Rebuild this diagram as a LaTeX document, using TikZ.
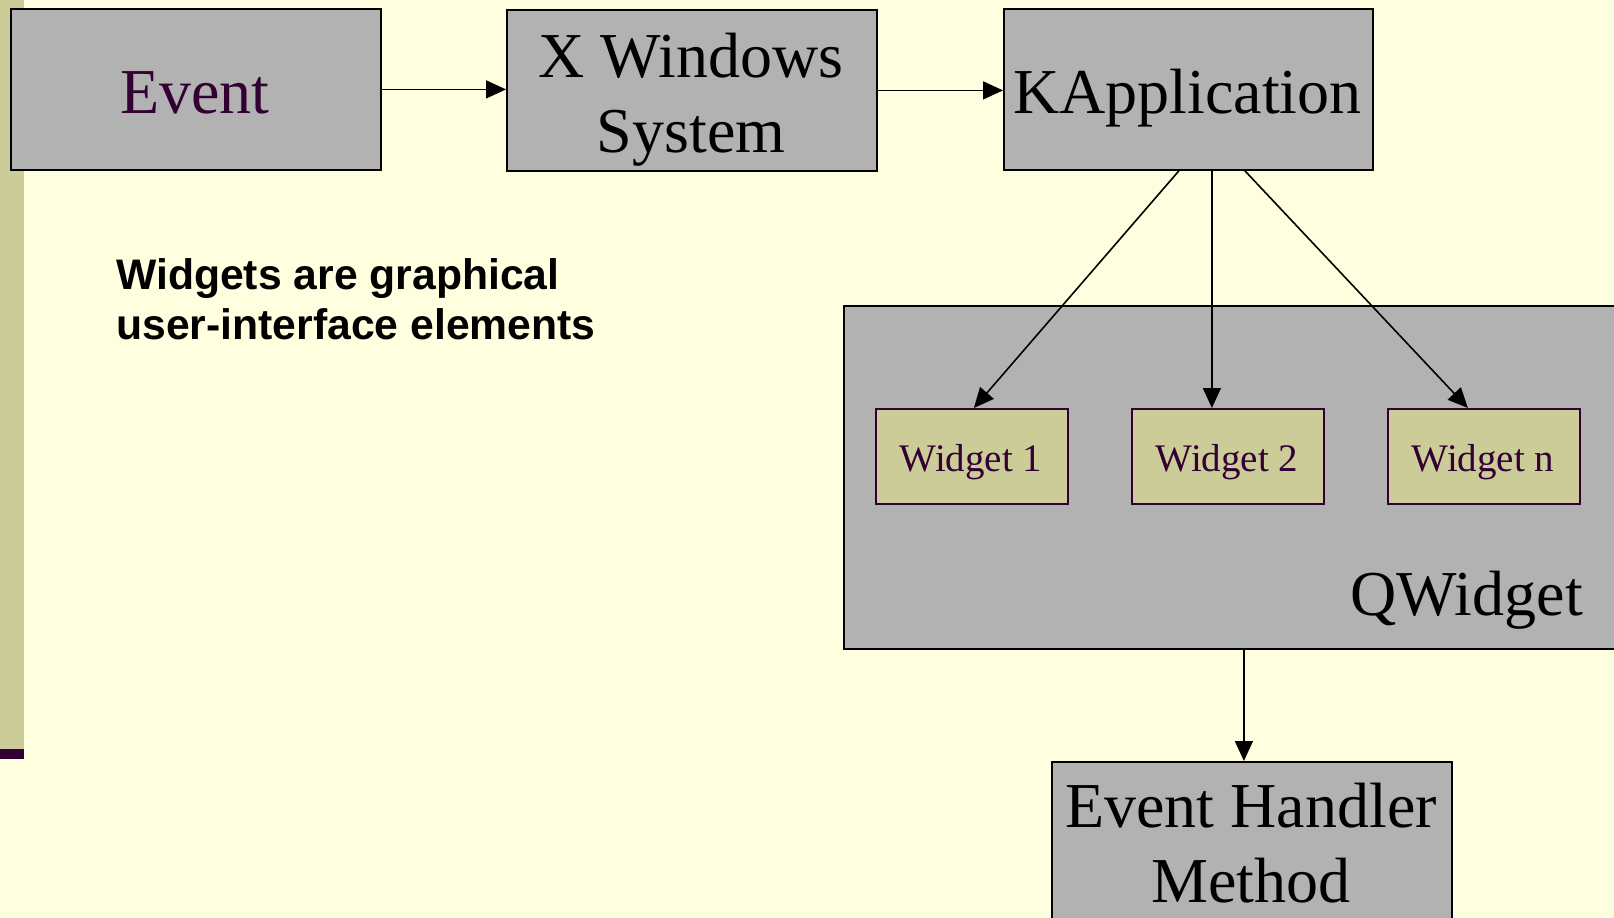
\documentclass[tikz,border=0pt]{standalone}
\usepackage{fontspec}
\setmainfont{Liberation Serif}
\setsansfont{Liberation Sans}
\usetikzlibrary{arrows.meta,calc}
\definecolor{bgyellow}{HTML}{FFFFE0}
\definecolor{boxgray}{HTML}{B2B2B2}
\definecolor{khaki}{HTML}{CCCC99}
\definecolor{plum}{HTML}{330033}
\begin{document}
\begin{tikzpicture}[x=1pt,y=-1pt,
  gbox/.style={draw=black, fill=boxgray, line width=1.8pt, inner sep=0pt, anchor=north west},
  wbox/.style={draw=plum, fill=khaki, line width=1.8pt, inner sep=0pt, anchor=north west, minimum width=192pt, minimum height=95pt},
  bigtxt/.style={font=\fontsize{64}{75}\selectfont, inner sep=0pt},
  smalltxt/.style={font=\fontsize{39}{45}\selectfont, text=plum, inner sep=0pt, anchor=base},
  arr/.style={line width=1.6pt, -{Triangle[length=20pt,width=18pt]}}
]
\useasboundingbox (0,0) rectangle (1614,918);
\fill[bgyellow] (0,0) rectangle (1614,918);
\begin{scope}
\clip (0,0) rectangle (1614,918);
\fill[khaki] (0,0) rectangle (24,749);
\fill[plum] (0,749) rectangle (24,759);
\node[gbox, minimum width=370pt, minimum height=161pt] (event) at (10,8) {};
\node[gbox, minimum width=370pt, minimum height=161pt] (xw) at (506,9) {};
\node[gbox, minimum width=369pt, minimum height=161pt] (kapp) at (1003,8) {};
\node[gbox, minimum width=800pt, minimum height=343pt] (qw) at (843,305) {};
\node[wbox] (w1) at (875,408) {};
\node[wbox] (w2) at (1131,408) {};
\node[wbox] (wn) at (1387,408) {};
\node[gbox, minimum width=400pt, minimum height=200pt] (eh) at (1051,761) {};

\node[bigtxt, text=plum, anchor=base] (eventlbl) at (195,113) {Event};
\node[bigtxt, anchor=north, align=center] (xwlbl) at (691,33) {X Windows\\System};
\node[bigtxt, anchor=base] (kapplbl) at (1187.5,113) {KApplication};
\node[bigtxt, anchor=base east] (qwlbl) at (1583,615) {QWidget};
\node[bigtxt, anchor=north, align=center] (ehlbl) at (1251,783) {Event Handler\\Method};
\node[smalltxt] (w1lbl) at (971,471.5) {Widget 1};
\node[smalltxt] (w2lbl) at (1227,471.5) {Widget 2};
\node[smalltxt] (wnlbl) at (1483,471.5) {Widget n};
\node[font=\fontsize{42.7}{50}\selectfont\sffamily\bfseries, anchor=north west, align=left, inner sep=0pt] (note) at (116,258) {Widgets are graphical\\user-interface elements};

\draw[arr] (event.east) -- (event.east -| xw.west);
\draw[arr] (xw.east) -- (xw.east -| kapp.west);
\draw[arr] ([xshift=-9.5pt]kapp.south) -- ([xshift=2pt]w1.north);
\draw[arr] ([xshift=23.5pt]kapp.south) -- ([xshift=-16pt]w2.north);
\draw[arr] ([xshift=56.5pt]kapp.south) -- ([xshift=-16pt]wn.north);
\draw[arr] (qw.south) -- (qw.south |- eh.north);
\end{scope}
\end{tikzpicture}
\end{document}
